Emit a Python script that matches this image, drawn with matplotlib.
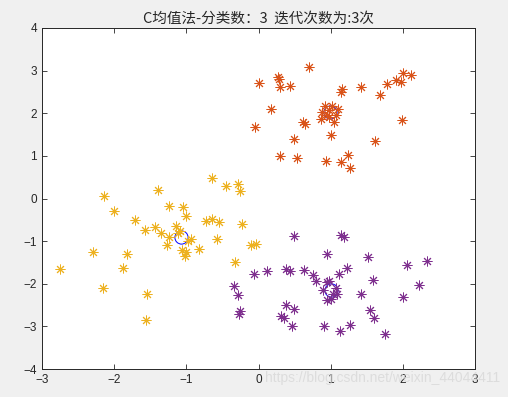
import matplotlib.pyplot as plt

plt.rcParams['font.family'] = ['Noto Sans CJK SC', 'DejaVu Sans']

# cluster 1 (orange)
c1_x = [0.70, 0.01, 0.27, 0.28, 0.30, 0.43, 0.17, -0.05, 0.61, 0.65, 0.49, 0.30, 0.53, 0.93,
        1.16, 1.15, 1.00, 1.15, 1.24, 1.42, 1.78, 1.68, 1.91, 2.00, 1.97, 2.12, 1.99, 1.61, 1.27,
        0.92, 1.02, 1.10, 0.88, 0.98, 0.98, 1.04, 0.87, 1.08, 0.95]
c1_y = [3.08, 2.70, 2.84, 2.80, 2.61, 2.63, 2.10, 1.67, 1.79, 1.75, 1.39, 1.00, 0.94, 0.89,
        2.58, 2.50, 1.50, 0.85, 1.02, 2.61, 2.69, 2.42, 2.78, 2.94, 2.73, 2.90, 1.83, 1.35, 0.71,
        2.18, 2.18, 2.09, 2.04, 2.08, 1.92, 1.80, 1.86, 1.96, 1.95]

# cluster 2 (yellow)
c2_x = [-2.14, -2.00, -1.71, -1.57, -2.29, -1.82, -1.88, -2.75, -2.16, -1.55, -1.56, -0.65, -0.45,
        -0.28, -0.26, -1.39, -1.24, -1.05, -1.01, -0.73, -0.65, -0.55, -0.23, -1.44, -1.35, -1.24,
        -1.14, -1.12, -1.09, -1.27, -0.98, -0.93, -1.06, -1.00, -1.02, -0.83, -0.58, -0.10, -0.03, -0.32]
c2_y = [0.05, -0.30, -0.51, -0.73, -1.26, -1.31, -1.62, -1.66, -2.11, -2.25, -2.86, 0.47, 0.29,
        0.35, 0.18, 0.21, -0.18, -0.19, -0.41, -0.53, -0.48, -0.56, -0.60, -0.67, -0.81, -0.90,
        -0.64, -0.82, -0.77, -1.09, -1.00, -0.96, -1.21, -1.25, -1.35, -1.19, -0.94, -1.09, -1.07, -1.49]

# cluster 3 (purple)
c3_x = [0.49, 0.95, -0.06, 0.12, 0.38, 0.44, 0.63, 0.75, 0.79, -0.34, -0.29, -0.26, -0.27, 0.38,
        0.49, 0.31, 0.35, 0.46, 0.91, 1.15, 1.18, 1.52, 1.23, 1.11, 1.59, 2.06, 2.33, 2.22, 2.00,
        1.42, 1.54, 1.60, 1.75, 1.27, 1.13, 0.95, 0.98, 0.89, 1.07, 1.03, 1.09, 0.95, 1.01]
c3_y = [-0.87, -1.31, -1.76, -1.69, -1.65, -1.71, -1.68, -1.80, -1.93, -2.06, -2.27, -2.63, -2.71,
        -2.49, -2.60, -2.75, -2.81, -3.00, -3.00, -0.86, -0.90, -1.37, -1.64, -1.76, -1.92, -1.57,
        -1.47, -2.03, -2.32, -2.23, -2.62, -2.81, -3.18, -2.96, -3.11, -1.97, -1.94, -2.15, -2.11,
        -2.24, -2.24, -2.38, -2.36]

# cluster centres
cen_x = [0.99, -1.08, 1.01]
cen_y = [2.04, -0.90, -2.15]

ticks_x = [-3, -2, -1, 0, 1, 2, 3]
ticks_y = [-4, -3, -2, -1, 0, 1, 2, 3, 4]

fig = plt.figure(figsize=(5.08, 3.97), dpi=100, facecolor='#f0f0f0')
ax = fig.add_axes([42/508, 28/397, 433/508, 341/397])

ast = (8, 2, 0)  # matlab-like asterisk
ax.plot(cen_x, cen_y, 'o', color='#0000ff', mfc='none', ms=9.5, mew=0.7, zorder=1)
ax.plot(c1_x, c1_y, linestyle='none', marker=ast, color='#d95319', ms=7, mew=0.7, zorder=2)
ax.plot(c2_x, c2_y, linestyle='none', marker=ast, color='#edb120', ms=7, mew=0.7, zorder=2)
ax.plot(c3_x, c3_y, linestyle='none', marker=ast, color='#7e2f8e', ms=7, mew=0.7, zorder=2)

ax.set_xlim(-3, 3)
ax.set_ylim(-4, 4)
ax.set_xticks(ticks_x)
ax.set_yticks(ticks_y)
ax.tick_params(direction='in', top=True, right=True, length=3.5, width=0.6,
               labelsize=8.5, colors='#262626')
for lab in ax.get_xticklabels() + ax.get_yticklabels():
    lab.set_family(['Liberation Sans'])
for s in ax.spines.values():
    s.set_color('#262626')
    s.set_linewidth(0.7)

ax.set_title('C均值法-分类数：3  迭代次数为:3次', fontsize=10.5, color='#262626', pad=4)

fig.text(0.985, 0.03, 'https://blog.csdn.net/weixin_44044411', ha='right', va='bottom',
         fontsize=10, color='#d8d8d8', alpha=0.8, family=['Liberation Sans'])

fig.savefig('out.png', dpi=100, facecolor=fig.get_facecolor())
